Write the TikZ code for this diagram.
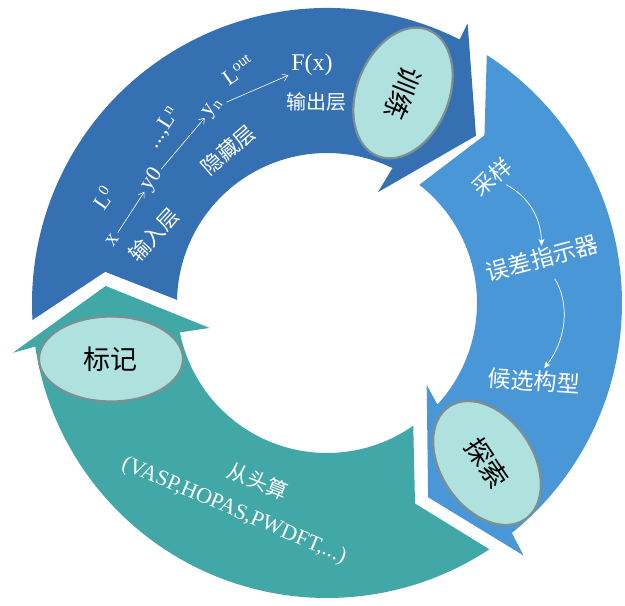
\documentclass[tikz,border=0pt]{standalone}
\usepackage{fontspec}
\setmainfont{Liberation Serif}
\newfontfamily\cjk{Noto Sans CJK SC}
\usetikzlibrary{arrows.meta,shapes.geometric}
\definecolor{cA}{HTML}{3571B2}
\definecolor{cB}{HTML}{4A97D8}
\definecolor{cC}{HTML}{41A8A7}
\definecolor{efill}{HTML}{AFE2DE}
\definecolor{edraw}{HTML}{7D8F90}
\begin{document}
\begin{tikzpicture}[x=1pt,y=1pt,
  lat/.style={text=white, inner sep=1pt, font=\fontsize{22}{24}\selectfont},
  cw/.style={text=white, inner sep=1pt, font=\cjk\fontsize{21}{23}\selectfont},
  ell/.style={ellipse, draw=edraw, line width=2.2pt, fill=efill, inner sep=0pt,
              minimum width=136pt, minimum height=92pt,
              font=\cjk\fontsize{27}{29}\selectfont, text=black},
  sarr/.style={white, line width=0.6pt, -{Straight Barb[length=5pt,width=7pt]}, shorten <=2pt, shorten >=2pt},
  carr/.style={white, line width=0.7pt, -{Stealth[length=7pt,width=6pt]}}
]
\fill[white] (-327,-303) rectangle (298,303);
\useasboundingbox (-327,-303) rectangle (298,303);

% dark blue arc (training)
\fill[cA] (183.3:295pt) -- (172:224pt) -- (178.8:150pt)
  arc[start angle=178.8, end angle=64.1, radius=150pt]
  -- (65.3:122pt) -- (48.3:224pt) -- (63.3:313pt) -- (63.3:295pt)
  arc[start angle=63.3, end angle=183.3, radius=295pt] -- cycle;

% light blue arc (exploration)
\fill[cB] (57.2:295pt) -- (46.8:230pt) -- (52:150pt)
  arc[start angle=52, end angle=-42.6, radius=150pt]
  -- (-39.4:129pt) -- (-62.5:219pt) -- (-52.1:320pt) -- (-51.2:295pt)
  arc[start angle=-51.2, end angle=57.2, radius=295pt] -- cycle;

% teal arc (labelling)
\fill[cC] (-56.6:295pt) -- (-66.3:219pt) -- (-54.9:150pt)
  arc[start angle=-54.9, end angle=-168.7, radius=150pt]
  -- (-168:120pt) -- (-184.4:222pt) -- (-171:318pt) -- (-171.5:295pt)
  arc[start angle=-171.5, end angle=-56.6, radius=295pt] -- cycle;

% dark blue texts
\node[lat, rotate=55] (x) at (-214,63) {x};
\node[lat, rotate=55] (y0) at (-175,123) {y0};
\node[lat, rotate=55] (yn) at (-114,195) {y\textsubscript{n}};
\node[lat, font=\fontsize{24}{26}\selectfont] (Fx) at (-15,238) {F(x)};
\node[lat, rotate=55] (L0) at (-224,105) {L\textsuperscript{0}};
\node[lat, rotate=57] (Ln) at (-163,175) {...,L\textsuperscript{n}};
\node[lat, rotate=35] (Lout) at (-89,233) {L\textsuperscript{out}};
\node[cw, rotate=47] (inl) at (-173,68) {输入层};
\node[cw, rotate=41] (hid) at (-99,153) {隐藏层};
\node[cw, font=\cjk\fontsize{20}{22}\selectfont] (outl) at (-10,201) {输出层};
\draw[sarr] (x) -- (y0);
\draw[sarr] (y0) -- (yn);
\draw[sarr] (yn) -- (Fx);

% light blue texts
\node[cw, rotate=40, font=\cjk\fontsize{22}{24}\selectfont] (cy) at (165,126) {采样};
\node[cw, rotate=15, font=\cjk\fontsize{23}{25}\selectfont] (wc) at (215,45) {误差指示器};
\node[cw, rotate=-4, font=\cjk\fontsize{23}{25}\selectfont] (hx) at (207,-78) {候选构型};
\draw[carr, shorten <=4pt] (cy) to[bend left=30] (wc);
\draw[carr, shorten <=12pt, shorten >=2pt] (wc) to[bend left=35] (hx);

% teal texts
\node[cw, rotate=-22] (ab) at (-69,-178) {从头算};
\node[lat, rotate=-23] (codes) at (-93,-208) {(VASP,HOPAS,PWDFT,...)};

% ellipses
\node[ell, rotate=-112] (train) at (76,210) {训练};
\node[ell, rotate=-56] (explore) at (160,-160) {探索};
\node[ell, minimum width=144pt, minimum height=85pt] (mark) at (-216,-56) {标记};
\end{tikzpicture}
\end{document}
